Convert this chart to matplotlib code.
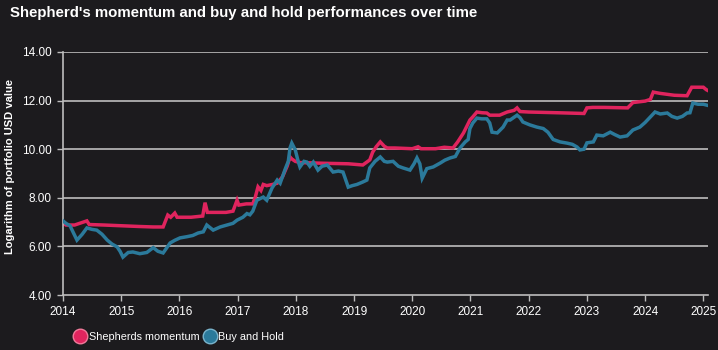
import matplotlib
matplotlib.use("Agg")
import matplotlib.pyplot as plt
from matplotlib.lines import Line2D

plt.rcParams['font.family'] = ['Liberation Sans', 'DejaVu Sans']

title = "Shepherd's momentum and buy and hold performances over time"
ylabel = "Logarithm of portfolio USD value"
series_names = ["Shepherds momentum", "Buy and Hold"]
year_ticks = list(range(2014, 2026))
y_ticks = [4, 6, 8, 10, 12, 14]

bh_t = [2014.0, 2014.05, 2014.12, 2014.24, 2014.33, 2014.41, 2014.5, 2014.58, 2014.67, 2014.76,
        2014.84, 2014.93, 2014.98, 2015.03, 2015.12, 2015.2, 2015.32, 2015.44, 2015.55, 2015.63,
        2015.72, 2015.84, 2015.92, 2016.01, 2016.13, 2016.23, 2016.32, 2016.41, 2016.47, 2016.58,
        2016.7, 2016.82, 2016.92, 2016.99, 2017.09, 2017.16, 2017.21, 2017.26, 2017.33, 2017.44,
        2017.5, 2017.59, 2017.68, 2017.73, 2017.82, 2017.87, 2017.9, 2017.93, 2017.99, 2018.04,
        2018.07, 2018.14, 2018.19, 2018.24, 2018.3, 2018.38, 2018.45, 2018.54, 2018.64, 2018.73,
        2018.81, 2018.9, 2018.97, 2019.05, 2019.15, 2019.22, 2019.27, 2019.36, 2019.45, 2019.52,
        2019.57, 2019.67, 2019.76, 2019.84, 2019.96, 2020.03, 2020.08, 2020.13, 2020.17, 2020.25,
        2020.36, 2020.48, 2020.56, 2020.65, 2020.74, 2020.82, 2020.91, 2020.96, 2020.99, 2021.04,
        2021.11, 2021.19, 2021.28, 2021.33, 2021.37, 2021.46, 2021.51, 2021.56, 2021.63, 2021.68,
        2021.8, 2021.85, 2021.9, 2022.02, 2022.14, 2022.25, 2022.33, 2022.42, 2022.54, 2022.66,
        2022.75, 2022.83, 2022.88, 2022.95, 2023.0, 2023.11, 2023.17, 2023.28, 2023.4, 2023.48,
        2023.57, 2023.69, 2023.79, 2023.91, 2024.0, 2024.09, 2024.17, 2024.26, 2024.38, 2024.46,
        2024.55, 2024.64, 2024.72, 2024.77, 2024.82, 2024.91, 2025.0, 2025.08]
bh_v = [7.05, 6.95, 6.85, 6.26, 6.5, 6.76, 6.7, 6.67, 6.5, 6.26,
        6.1, 5.98, 5.8, 5.56, 5.75, 5.77, 5.7, 5.75, 5.95, 5.8,
        5.73, 6.14, 6.25, 6.35, 6.4, 6.45, 6.55, 6.6, 6.88, 6.67,
        6.8, 6.88, 6.95, 7.08, 7.2, 7.35, 7.3, 7.45, 7.9, 8.03,
        7.9, 8.4, 8.73, 8.6, 9.2, 9.5, 10.05, 10.25, 9.97, 9.5,
        9.27, 9.5, 9.47, 9.3, 9.47, 9.14, 9.3, 9.35, 9.06, 9.1,
        9.06, 8.44, 8.5, 8.55, 8.65, 8.73, 9.23, 9.5, 9.68, 9.5,
        9.47, 9.5, 9.3, 9.23, 9.14, 9.4, 9.64, 9.4, 8.81, 9.2,
        9.27, 9.43, 9.55, 9.64, 9.7, 10.05, 10.3, 10.4, 10.85, 11.08,
        11.28, 11.25, 11.25, 11.08, 10.7, 10.67, 10.79, 10.91, 11.2, 11.2,
        11.4, 11.3, 11.12, 11.0, 10.91, 10.85, 10.7, 10.4, 10.3, 10.25,
        10.2, 10.09, 9.97, 10.0, 10.26, 10.3, 10.58, 10.55, 10.7, 10.6,
        10.5, 10.55, 10.79, 10.91, 11.1, 11.33, 11.53, 11.45, 11.49, 11.35,
        11.28, 11.35, 11.49, 11.5, 11.9, 11.85, 11.85, 11.8]

sm_t = [2014.0, 2014.05, 2014.2, 2014.41, 2014.45, 2014.7, 2015.0, 2015.3, 2015.55, 2015.72,
        2015.8, 2015.85, 2015.92, 2015.96, 2016.2, 2016.4, 2016.44, 2016.48, 2016.8, 2016.92,
        2016.99, 2017.02, 2017.15, 2017.26, 2017.3, 2017.35, 2017.4, 2017.44, 2017.5, 2017.6,
        2017.68, 2017.77, 2017.85, 2017.9, 2017.93, 2017.99, 2018.07, 2018.5, 2018.9, 2019.15,
        2019.27, 2019.32, 2019.38, 2019.45, 2019.52, 2019.57, 2019.7, 2020.0, 2020.1, 2020.15,
        2020.4, 2020.55, 2020.7, 2020.78, 2020.88, 2020.99, 2021.04, 2021.11, 2021.2, 2021.28,
        2021.33, 2021.5, 2021.63, 2021.75, 2021.8, 2021.85, 2022.0, 2022.5, 2022.95, 2023.0,
        2023.1, 2023.3, 2023.7, 2023.79, 2024.0, 2024.09, 2024.14, 2024.25, 2024.5, 2024.72,
        2024.8, 2025.0, 2025.05, 2025.09]
sm_v = [6.95, 6.88, 6.88, 7.05, 6.9, 6.88, 6.85, 6.82, 6.8, 6.8,
        7.29, 7.2, 7.37, 7.2, 7.2, 7.25, 7.8, 7.4, 7.4, 7.45,
        7.9, 7.7, 7.75, 7.75, 8.0, 8.45, 8.3, 8.55, 8.5, 8.55,
        8.6, 8.86, 9.3, 9.68, 9.6, 9.5, 9.45, 9.42, 9.4, 9.35,
        9.56, 9.88, 10.1, 10.3, 10.12, 10.05, 10.05, 10.02, 10.1, 10.02,
        10.02, 10.08, 10.05, 10.3, 10.67, 11.2, 11.33, 11.53, 11.5, 11.49,
        11.4, 11.4, 11.53, 11.6, 11.7, 11.55, 11.53, 11.5, 11.47, 11.7,
        11.72, 11.72, 11.7, 11.92, 11.98, 12.05, 12.35, 12.3, 12.22, 12.2,
        12.55, 12.55, 12.45, 12.4]

BG = '#1c1b1e'
RED = '#e0245e'
BLUE = '#2b7a9b'
GRID = '#bdbdbd'

fig = plt.figure(figsize=(7.18, 3.5), dpi=100, facecolor=BG)
ax = fig.add_axes([63/718, 1-295/350, 645/718, 243/350], facecolor=BG)

ax.plot(bh_t, bh_v, color=BLUE, lw=2.5, solid_joinstyle='miter', zorder=3)
ax.plot(sm_t, sm_v, color=RED, lw=2.5, solid_joinstyle='miter', zorder=2)

ax.set_xlim(2014, 2025.08)
ax.set_ylim(4, 14)
ax.set_xticks(year_ticks)
ax.set_xticklabels([str(y) for y in year_ticks])
ax.set_yticks(y_ticks)
ax.set_yticklabels([f"{v:.2f}" for v in y_ticks])

for v in y_ticks[1:]:
    ax.axhline(v, color=GRID, lw=1.2, zorder=1)

for s in ['top', 'right']:
    ax.spines[s].set_visible(False)
for s in ['left', 'bottom']:
    ax.spines[s].set_color(GRID)
    ax.spines[s].set_linewidth(1.2)
ax.tick_params(colors=GRID, length=4, width=1, labelcolor='white', labelsize=8.5, pad=4)

ax.set_ylabel(ylabel, color='white', fontsize=8, fontweight='bold')
ax.yaxis.set_label_coords(-48/645, 0.53)

fig.text(10/718, 1-13/350, title, color='white', fontsize=10.8, fontweight='bold',
         ha='left', va='center')

handles = [Line2D([], [], marker='o', ls='none', markersize=10.5, markerfacecolor=RED,
                  markeredgecolor='#f07a9a', markeredgewidth=1),
           Line2D([], [], marker='o', ls='none', markersize=10.5, markerfacecolor=BLUE,
                  markeredgecolor='#7ab4cc', markeredgewidth=1)]
leg = fig.legend(handles, series_names, loc='center left', bbox_to_anchor=(73/718, 1-337/350),
                 ncol=2, frameon=False, fontsize=7.8, handletextpad=0.15, columnspacing=0.3,
                 handlelength=1.3, borderpad=0, borderaxespad=0)
for t in leg.get_texts():
    t.set_color('white')

fig.savefig('out.png', dpi=100, facecolor=BG)
